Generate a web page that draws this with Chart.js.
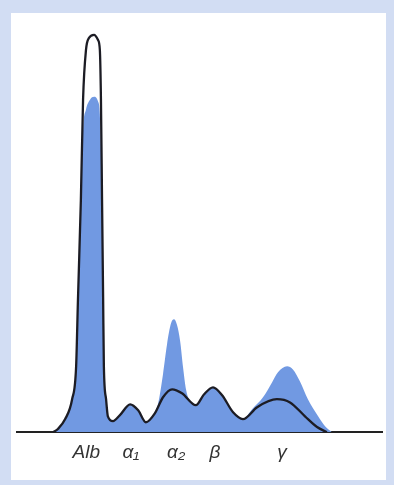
<!DOCTYPE html>
<html>
<head>
<meta charset="utf-8">
<script src="https://cdn.jsdelivr.net/npm/chart.js@4.4.0/dist/chart.umd.min.js"></script>
<style>
    html, body { margin: 0; padding: 0; }
    body { width: 394px; height: 485px; background: #d2ddf3; position: relative; overflow: hidden; }
    #panel { position: absolute; left: 11px; top: 13px; width: 375px; height: 467px; background: #fff; }
    #wrap { position: absolute; left: 0; top: 0; width: 394px; height: 485px; }
</style>
</head>
<body>
<div id="panel"></div>
<div id="wrap"><canvas id="spepChart" width="394" height="485"></canvas></div>
<script>
// fraction labels and where they sit on the mobility axis (0-100)
const fractionNames = ['Alb', 'α₁', 'α₂', 'β', 'γ'];
const fractionPos = [19.0, 31.2, 43.6, 54.2, 72.6];

// normal trace (black line), relative height 0-100
const normalX = [9.9, 11.2, 13.2, 15.1, 16.2, 16.7, 17.5, 18.1, 18.9, 19.7, 21.1, 22.2, 22.7, 23.0, 23.3, 23.6, 23.8, 24.4, 24.9, 26.3,
    28.2, 31.0, 33.2, 35.3, 37.8, 40.0, 42.5, 45.2, 49.0, 51.2, 53.7, 56.2, 59.2, 61.9, 65.8, 71.2, 74.8, 78.9, 82.2, 84.9];
const normalY = [0, 0.8, 3.3, 8.3, 16.6, 33.4, 58.5, 83.7, 96.2, 99.2, 100, 98.7, 96.2, 83.7, 58.5, 33.4, 16.6, 8.3, 4.0, 2.8,
    4.3, 7.0, 5.5, 2.5, 4.8, 8.8, 10.8, 9.8, 6.8, 9.5, 11.3, 9.3, 5.0, 3.3, 6.3, 8.3, 7.5, 4.0, 1.3, 0];

// patient trace (blue area)
const patientX = [10.4, 11.2, 13.2, 15.1, 16.2, 16.7, 17.5, 18.1, 18.9, 20.0, 21.1, 22.2, 22.7, 23.3, 23.6, 23.8, 24.4, 24.9, 26.3,
    28.2, 31.0, 33.2, 35.3, 37.3, 38.6, 40.0, 41.1, 42.2, 43.0, 43.8, 44.7, 45.5, 46.3, 47.1, 49.0,
    51.2, 53.7, 56.2, 59.2, 61.9, 64.4, 67.4, 69.9, 71.5, 74.0, 75.6, 77.5, 79.7, 82.5, 84.4, 86.3];
const patientY = [0, 0.8, 3.3, 8.3, 16.6, 33.4, 58.5, 76.1, 81.2, 83.7, 84.4, 83.2, 79.9, 58.5, 33.4, 16.6, 8.3, 4.0, 2.8,
    4.3, 7.0, 5.5, 2.5, 4.3, 7.0, 14.6, 22.1, 27.4, 28.4, 27.1, 22.9, 16.3, 10.8, 8.3, 6.8,
    9.5, 11.3, 9.3, 5.0, 3.3, 5.8, 8.8, 12.6, 15.1, 16.6, 15.8, 12.8, 8.3, 4.0, 1.5, 0];

function toPoints(xs, ys) {
    return xs.map(function(x, i) { return { x: x, y: ys[i] }; });
}

const ctx = document.getElementById('spepChart').getContext('2d');
const spepChart = new Chart(ctx, {
    type: 'line',
    data: {
        datasets: [{
            label: 'Normal',
            data: toPoints(normalX, normalY),
            borderColor: '#1c1c24',
            borderWidth: 2.3,
            pointRadius: 0,
            fill: false,
            cubicInterpolationMode: 'monotone',
            order: 0
        }, {
            label: 'Patient',
            data: toPoints(patientX, patientY),
            borderWidth: 0,
            borderColor: 'rgba(0,0,0,0)',
            backgroundColor: '#7199e2',
            pointRadius: 0,
            fill: 'origin',
            cubicInterpolationMode: 'monotone',
            order: 1
        }]
    },
    options: {
        responsive: false,
        animation: false,
        layout: { padding: { left: 17, right: 12, top: 15, bottom: 12 } },
        plugins: { legend: { display: false }, tooltip: { enabled: false } },
        scales: {
            x: {
                type: 'linear',
                min: 0,
                max: 100,
                grid: { display: false, drawTicks: false },
                border: { display: true, color: '#222', width: 2 },
                afterBuildTicks: function(axis) {
                    axis.ticks = fractionPos.map(function(v) { return { value: v }; });
                },
                ticks: {
                    autoSkip: false,
                    maxRotation: 0,
                    padding: 9,
                    color: '#333',
                    font: { family: "'Liberation Sans Narrow', 'Liberation Sans', sans-serif", size: 19, style: 'italic' },
                    callback: function(value, index) { return fractionNames[index]; }
                }
            },
            y: {
                display: false,
                min: 0,
                max: 105
            }
        }
    }
});
</script>
</body>
</html>
